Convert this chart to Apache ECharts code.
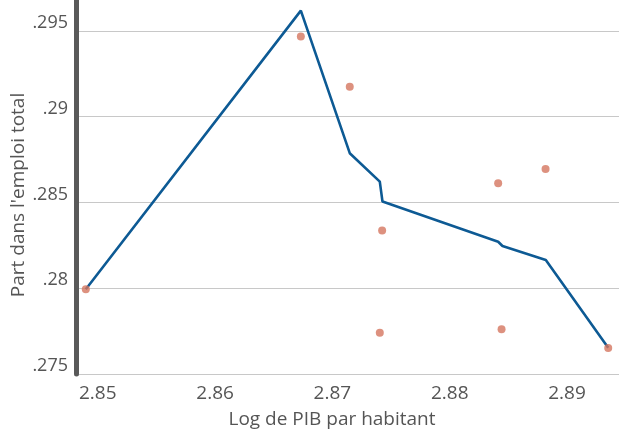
<!DOCTYPE html>
<html>
<head>
<meta charset="utf-8">
<script src="https://cdn.jsdelivr.net/npm/echarts@6/dist/echarts.min.js"></script>
<style>html,body{margin:0;padding:0;background:#fff;}#c{width:619px;height:434px;}</style>
</head>
<body>
<div id="c"></div>
<script>
// Fitted line (x, y)
const lineX = [2.84898, 2.86731, 2.87148, 2.87404, 2.87427, 2.88413, 2.88450, 2.88819, 2.89351];
const lineY = [0.27994, 0.29618, 0.28787, 0.28621, 0.28505, 0.28271, 0.28246, 0.28165, 0.27653];
// Observed points
const dotX = [2.84898, 2.86731, 2.87148, 2.87424, 2.87404, 2.88413, 2.88817, 2.88442, 2.89351];
const dotY = [0.27994, 0.29467, 0.29175, 0.28336, 0.27741, 0.28612, 0.28695, 0.27761, 0.27652];
const xTicks = [2.85, 2.86, 2.87, 2.88, 2.89];
const yTicks = [0.275, 0.28, 0.285, 0.29, 0.295];
const xTitle = 'Log de PIB par habitant';
const yTitle = "Part dans l'emploi total";

const font = '"Open Sans", "Noto Sans", sans-serif';
const near = (v, arr) => arr.some(t => Math.abs(t - v) < 1e-6);

const chart = echarts.init(document.getElementById('c'), null, {renderer: 'canvas'});
chart.setOption({
  animation: false,
  grid: {left: 79, right: 0, top: 0, bottom: 60, outerBoundsMode: 'none', containLabel: false},
  xAxis: {
    type: 'value', min: 2.8484, max: 2.89443, splitNumber: 5,
    axisLine: {show: false}, axisTick: {show: false}, splitLine: {show: false},
    axisLabel: {
      showMinLabel: false, showMaxLabel: false, margin: 10,
      color: '#555', fontSize: 19, fontFamily: font,
      formatter: v => near(v, xTicks) ? v.toFixed(2) : ''
    },
    name: xTitle, nameLocation: 'middle', nameGap: 36, nameMoveOverlap: false,
    nameTextStyle: {color: '#555', fontSize: 19, fontFamily: font, padding: [0, 34, 0, 0]}
  },
  yAxis: {
    type: 'value', min: 0.275, max: 0.2968, interval: 0.005, offset: 2.5,
    axisLine: {show: true, lineStyle: {color: '#595959', width: 5}},
    axisTick: {show: false},
    splitLine: {show: true, showMinLine: true, showMaxLine: false, lineStyle: {color: '#c8c8c8', width: 1}},
    axisLabel: {
      showMaxLabel: false, margin: 8.5, verticalAlign: 'bottom', lineHeight: 16,
      color: '#555', fontSize: 18, fontFamily: font,
      formatter: v => near(v, yTicks) ? String(+v.toFixed(3)).replace(/^0/, '') : ''
    },
    name: yTitle, nameLocation: 'middle', nameGap: 48, nameMoveOverlap: false,
    nameTextStyle: {color: '#555', fontSize: 19, fontFamily: font, padding: [0, 16, 0, 0]}
  },
  series: [
    {
      type: 'line', data: lineX.map((x, i) => [x, lineY[i]]),
      showSymbol: false, lineStyle: {color: '#0d5a94', width: 2.6}, z: 2
    },
    {
      type: 'scatter', data: dotX.map((x, i) => [x, dotY[i]]),
      symbolSize: 8, itemStyle: {color: '#d5755f'}, z: 3
    }
  ]
});
</script>
</body>
</html>
